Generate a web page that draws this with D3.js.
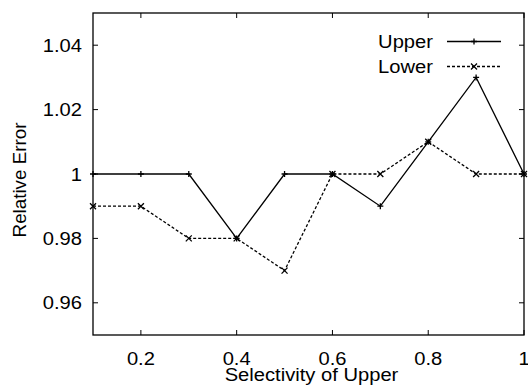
<!DOCTYPE html>
<html>
<head>
<meta charset="utf-8">
<script src="https://cdn.jsdelivr.net/npm/d3@7"></script>
<style>
  body { margin: 0; background: #fff; }
  text { font-family: "Liberation Sans", Arial, sans-serif; fill: #000; }
</style>
</head>
<body>
<div id="chart"></div>
<script>
const selectivity = [0.1, 0.2, 0.3, 0.4, 0.5, 0.6, 0.7, 0.8, 0.9, 1.0];
const upperErr = [1, 1, 1, 0.98, 1, 1, 0.99, 1.01, 1.03, 1];
const lowerErr = [0.99, 0.99, 0.98, 0.98, 0.97, 1, 1, 1.01, 1, 1];
const xTicks = [0.2, 0.4, 0.6, 0.8, 1];
const yTicks = [0.96, 0.98, 1, 1.02, 1.04];
const seriesNames = ["Upper", "Lower"];

const W = 528, H = 389;
const margin = {top: 13, right: 4, bottom: 54, left: 93};
const width = W - margin.left - margin.right;
const height = H - margin.top - margin.bottom;
const stretch = 1.09; // text in the reference is a little wider than tall

const svg = d3.select("#chart").append("svg")
    .attr("width", W)
    .attr("height", H);

const g = svg.append("g")
    .attr("transform", `translate(${margin.left},${margin.top})`);

const x = d3.scaleLinear().domain([0.1, 1]).range([0, width]);
const y = d3.scaleLinear().domain([0.95, 1.05]).range([height, 0]);

const fmt = d => d3.format("")(+d.toFixed(2));

// ticks on all four sides, pointing inwards
const tickLen = 5;
xTicks.forEach(t => {
    g.append("line").attr("x1", x(t)).attr("x2", x(t))
        .attr("y1", height).attr("y2", height - tickLen)
        .attr("stroke", "#000");
    g.append("line").attr("x1", x(t)).attr("x2", x(t))
        .attr("y1", 0).attr("y2", tickLen)
        .attr("stroke", "#000");
    g.append("text")
        .attr("transform", `translate(${x(t)},${height + 30}) scale(${stretch},1)`)
        .attr("text-anchor", "middle")
        .style("font-size", "18.5px")
        .text(fmt(t));
});
yTicks.forEach(t => {
    g.append("line").attr("x1", 0).attr("x2", tickLen)
        .attr("y1", y(t)).attr("y2", y(t))
        .attr("stroke", "#000");
    g.append("line").attr("x1", width).attr("x2", width - tickLen)
        .attr("y1", y(t)).attr("y2", y(t))
        .attr("stroke", "#000");
    g.append("text")
        .attr("transform", `translate(-11,${y(t) + 6.5}) scale(${stretch},1)`)
        .attr("text-anchor", "end")
        .style("font-size", "18.5px")
        .text(fmt(t));
});

// frame
g.append("rect")
    .attr("width", width).attr("height", height)
    .attr("fill", "none")
    .attr("stroke", "#000")
    .attr("stroke-width", 1.3);

// axis labels
g.append("text")
    .attr("transform", `translate(${width / 2 + 3},${height + 46}) scale(${stretch},1)`)
    .attr("text-anchor", "middle")
    .style("font-size", "18.5px")
    .text("Selectivity of Upper");

svg.append("text")
    .attr("transform", `translate(26,180) rotate(-90)`)
    .attr("text-anchor", "middle")
    .style("font-size", "18.8px")
    .text("Relative Error");

const line = d3.line()
    .x(d => x(d[0]))
    .y(d => y(d[1]));

const dashes = [null, "3,2"];
const data = [upperErr, lowerErr].map(vals => selectivity.map((s, i) => [s, vals[i]]));

function marker(sel, type, cx, cy) {
    const r = 3;
    const p = type === 0
        ? `M${cx - r},${cy}H${cx + r}M${cx},${cy - r}V${cy + r}`
        : `M${cx - r},${cy - r}L${cx + r},${cy + r}M${cx - r},${cy + r}L${cx + r},${cy - r}`;
    sel.append("path").attr("d", p)
        .attr("stroke", "#000").attr("stroke-width", 1.3).attr("fill", "none");
}

data.forEach((pts, k) => {
    g.append("path")
        .datum(pts)
        .attr("fill", "none")
        .attr("stroke", "#000")
        .attr("stroke-width", 1.3)
        .attr("stroke-dasharray", dashes[k])
        .attr("d", line);
    pts.forEach(p => marker(g, k, x(p[0]), y(p[1])));
});

// legend
const legX1 = 447 - margin.left, legX2 = 501 - margin.left;
seriesNames.forEach((name, k) => {
    const ly = 41.5 - margin.top + k * 25;
    g.append("text")
        .attr("transform", `translate(${433 - margin.left},${ly + 6.5}) scale(${stretch},1)`)
        .attr("text-anchor", "end")
        .style("font-size", "18.5px")
        .text(name);
    g.append("line")
        .attr("x1", legX1).attr("x2", legX2)
        .attr("y1", ly).attr("y2", ly)
        .attr("stroke", "#000")
        .attr("stroke-width", 1.3)
        .attr("stroke-dasharray", dashes[k]);
    marker(g, k, (legX1 + legX2) / 2, ly);
});
</script>
</body>
</html>
